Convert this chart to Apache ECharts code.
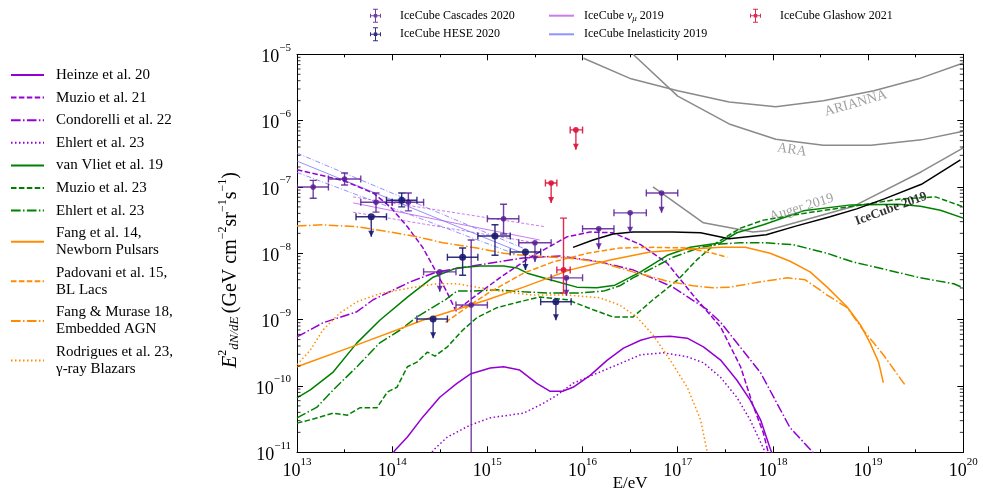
<!DOCTYPE html>
<html>
<head>
<meta charset="utf-8">
<title>Neutrino flux models</title>
<script src="https://cdn.jsdelivr.net/npm/echarts@6.0.0/dist/echarts.min.js"></script>
</head>
<body style="margin:0">
<div id="main" style="width:983px;height:492px;"></div>
<script>
// every value is [log10(E / eV), log10(E^2 dN/dE / GeV cm^-2 sr^-1 s^-1)]
var heinze20 = [[13.99,-11.05],[14.03,-10.97],[14.16,-10.77],[14.32,-10.47],[14.50,-10.17],[14.68,-9.96],[14.82,-9.82],[15.03,-9.73],[15.17,-9.71],[15.34,-9.76],[15.52,-9.96],[15.66,-10.08],[15.79,-10.08],[15.90,-10.02],[16.08,-9.84],[16.26,-9.61],[16.43,-9.43],[16.61,-9.31],[16.74,-9.26],[16.92,-9.25],[17.10,-9.28],[17.27,-9.41],[17.45,-9.61],[17.62,-9.91],[17.76,-10.21],[17.87,-10.51],[17.97,-10.94],[18.00,-11.05]];
var muzio21 = [[13.00,-6.74],[13.48,-6.90],[13.80,-7.09],[13.98,-7.30],[14.16,-7.60],[14.32,-7.91],[14.47,-8.30],[14.58,-8.60],[14.67,-8.87],[14.82,-8.70],[15.13,-8.37],[15.45,-8.06],[15.84,-7.75],[16.08,-7.68],[16.32,-7.69],[16.61,-7.87],[16.89,-8.15],[17.16,-8.63],[17.45,-9.11],[17.66,-9.71],[17.79,-10.29],[17.90,-10.71],[17.95,-11.00],[17.96,-11.05]];
var condorelli22 = [[13.00,-9.26],[13.27,-9.05],[13.63,-8.88],[13.80,-8.70],[14.19,-8.43],[14.47,-8.28],[14.89,-8.18],[15.38,-8.07],[15.76,-8.04],[16.18,-8.13],[16.53,-8.25],[16.95,-8.51],[17.31,-8.85],[17.45,-9.04],[17.87,-9.80],[18.18,-10.63],[18.42,-11.00],[18.45,-11.05]];
var ehlert23p = [[14.40,-11.05],[14.43,-10.97],[14.58,-10.77],[14.82,-10.59],[15.03,-10.48],[15.38,-10.41],[15.59,-10.26],[15.73,-10.14],[15.90,-9.96],[16.15,-9.81],[16.43,-9.64],[16.61,-9.53],[16.85,-9.50],[17.10,-9.56],[17.27,-9.65],[17.45,-9.87],[17.62,-10.17],[17.76,-10.51],[17.90,-10.94],[17.93,-11.05]];
var vanVliet19 = [[13.00,-10.18],[13.14,-10.06],[13.38,-9.79],[13.63,-9.35],[13.87,-9.01],[14.16,-8.66],[14.43,-8.36],[14.68,-8.22],[14.92,-8.19],[15.17,-8.19],[15.31,-8.22],[15.42,-8.30],[15.66,-8.40],[15.94,-8.51],[16.15,-8.52],[16.34,-8.48],[16.61,-8.28],[16.89,-8.03],[17.13,-7.91],[17.45,-7.84],[17.62,-7.69],[17.90,-7.57],[18.32,-7.36],[18.82,-7.27],[19.32,-7.26],[19.55,-7.29],[19.76,-7.35],[20.00,-7.47]];
var muzio23 = [[13.00,-10.56],[13.14,-10.51],[13.38,-10.41],[13.53,-10.44],[13.66,-10.33],[13.84,-10.33],[13.95,-10.09],[14.05,-10.02],[14.16,-9.71],[14.26,-9.64],[14.37,-9.49],[14.45,-9.55],[14.58,-9.41],[14.74,-9.16],[14.89,-8.97],[15.10,-8.82],[15.34,-8.73],[15.55,-8.66],[15.84,-8.70],[16.11,-8.85],[16.32,-8.96],[16.53,-8.96],[16.74,-8.70],[17.00,-8.40],[17.20,-8.10],[17.41,-7.84],[17.66,-7.62],[17.90,-7.50],[18.36,-7.39],[18.84,-7.29],[19.34,-7.18],[19.71,-7.15],[20.00,-7.30]];
var ehlert23g = [[13.00,-10.48],[13.21,-10.32],[13.38,-10.06],[13.63,-9.71],[13.87,-9.35],[14.08,-9.16],[14.26,-8.96],[14.43,-8.81],[14.56,-8.70],[14.68,-8.57],[14.85,-8.57],[15.10,-8.55],[15.38,-8.58],[15.66,-8.60],[15.94,-8.60],[16.22,-8.57],[16.39,-8.49],[16.53,-8.37],[16.74,-8.22],[16.95,-8.06],[17.24,-7.91],[17.45,-7.86],[17.66,-7.84],[17.90,-7.84],[18.21,-7.87],[18.57,-8.00],[18.84,-8.13],[19.20,-8.25],[19.55,-8.37],[19.90,-8.46],[20.00,-8.52]];
var fang14 = [[13.00,-9.71],[13.63,-9.38],[14.32,-9.01],[15.00,-8.70],[15.38,-8.51],[15.87,-8.25],[16.29,-8.10],[16.71,-7.98],[17.10,-7.94],[17.45,-7.91],[17.71,-7.91],[17.97,-8.00],[18.18,-8.12],[18.39,-8.28],[18.57,-8.51],[18.78,-8.81],[18.92,-9.08],[19.02,-9.35],[19.11,-9.64],[19.16,-9.95]];
var padovani15 = [[14.56,-9.04],[14.82,-8.78],[15.03,-8.58],[15.38,-8.30],[15.69,-8.13],[16.05,-8.00],[16.39,-7.92],[16.74,-7.91],[17.10,-7.92],[17.37,-8.00],[17.52,-8.06]];
var fangMurase18 = [[13.00,-7.59],[13.27,-7.57],[13.63,-7.60],[13.98,-7.68],[14.26,-7.75],[14.53,-7.84],[14.89,-7.92],[15.17,-8.00],[15.45,-8.04],[15.84,-8.07],[16.18,-8.13],[16.53,-8.28],[16.89,-8.42],[17.16,-8.49],[17.37,-8.52],[17.55,-8.51],[17.87,-8.43],[18.15,-8.37],[18.34,-8.40],[18.57,-8.63],[18.78,-8.82],[18.95,-9.16],[19.16,-9.53],[19.39,-9.99]];
var rodrigues23 = [[13.00,-9.68],[13.14,-9.46],[13.27,-9.16],[13.45,-8.90],[13.63,-8.73],[13.87,-8.61],[14.08,-8.55],[14.32,-8.49],[14.47,-8.46],[14.68,-8.46],[14.89,-8.51],[15.17,-8.58],[15.48,-8.63],[15.84,-8.63],[16.18,-8.67],[16.39,-8.78],[16.57,-8.96],[16.74,-9.23],[16.92,-9.61],[17.10,-10.02],[17.24,-10.51],[17.31,-11.00],[17.32,-11.05]];
var icecube2019 = [[15.90,-7.91],[16.11,-7.80],[16.32,-7.71],[16.53,-7.68],[16.95,-7.68],[17.24,-7.69],[17.54,-7.78],[17.93,-7.72],[18.24,-7.59],[18.60,-7.45],[18.88,-7.33],[19.17,-7.18],[19.56,-6.96],[19.97,-6.59]];
var auger2019 = [[16.74,-7.00],[17.27,-7.54],[17.79,-7.68],[17.93,-7.66],[18.85,-7.29],[19.56,-6.77],[20.00,-6.41]];
var ara = [[16.53,-5.00],[17.00,-5.63],[17.54,-6.05],[18.03,-6.28],[18.53,-6.37],[19.03,-6.37],[19.56,-6.29],[20.00,-6.16]];
var arianna = [[16.01,-5.06],[16.51,-5.37],[17.00,-5.55],[17.54,-5.72],[18.03,-5.79],[18.53,-5.70],[19.06,-5.55],[19.53,-5.37],[20.00,-5.13]];
var numu2019 = [[13.59,-7.24],[15.55,-7.80]];
var numu2019Hi = [[13.59,-7.15],[15.61,-7.60]];
var numu2019Lo = [[13.59,-7.38],[15.50,-7.84]];
var inel2019 = [[13.00,-6.61],[15.34,-7.98]];
var inel2019Hi = [[13.00,-6.49],[15.42,-7.95]];
var inel2019Lo = [[13.00,-6.78],[15.29,-8.01]];

// [logE, logF, logE low, logE high, logF low, logF high, upper limit]
var cascades2020 = [
  [13.17,-7.00,13.00,13.33,-7.17,-6.90,0],
  [13.50,-6.88,13.33,13.67,-6.97,-6.79,0],
  [13.83,-7.23,13.67,14.00,-7.38,-7.09,0],
  [14.17,-7.23,14.00,14.33,-7.36,-7.09,0],
  [14.50,-8.28,14.33,14.67,-8.58,-8.28,1],
  [14.83,-8.78,14.67,15.00,-11.5,-7.80,0],
  [15.17,-7.48,15.00,15.33,-7.71,-7.26,0],
  [15.50,-7.84,15.33,15.67,-8.13,-7.84,1],
  [15.83,-8.37,15.67,16.00,-8.64,-8.37,1],
  [16.17,-7.63,16.00,16.33,-7.94,-7.63,1],
  [16.50,-7.39,16.33,16.67,-7.69,-7.39,1],
  [16.83,-7.09,16.67,17.00,-7.39,-7.09,1]
];
var hese2020 = [
  [13.78,-7.45,13.62,13.94,-7.75,-7.45,1],
  [14.10,-7.20,13.94,14.26,-7.30,-7.09,0],
  [14.43,-8.99,14.26,14.58,-9.28,-8.99,1],
  [14.74,-8.06,14.58,14.90,-8.33,-7.92,0],
  [15.08,-7.74,14.90,15.24,-8.03,-7.57,0],
  [15.40,-7.98,15.24,15.56,-8.25,-7.98,1],
  [15.72,-8.73,15.56,15.88,-9.01,-8.73,1]
];
var glashow2021 = [
  [15.67,-6.94,15.61,15.73,-7.24,-6.94,1],
  [15.80,-8.25,15.73,15.87,-8.60,-7.47,0],
  [15.93,-6.14,15.87,16.00,-6.44,-6.14,1]
];

// curve labels: text, anchor [logE, logF], rotation
var curveLabels = [
  ['ARIANNA', [18.87, -5.74], 16],
  ['ARA', [18.20, -6.44], -9],
  ['Auger 2019', [18.30, -7.31], 17],
  ['IceCube 2019', [19.24, -7.33], 20]
];

var xTicks = [13, 14, 15, 16, 17, 18, 19, 20];
var yTicks = [-11, -10, -9, -8, -7, -6, -5];

var PURPLE = '#9400d3', GREEN = '#008000', ORANGE = '#ff8c00', GRAY = '#8a8a8a';
var SERIF = '"Liberation Serif", "DejaVu Serif", serif';
var SOLID = 'solid', DASHED = [5.5, 2.4], DASHDOT = [9.6, 2.4, 1.5, 2.4], DOTTED = [1.5, 2.5];

var models = [
  ['Heinze et al. 20', heinze20, PURPLE, SOLID],
  ['Muzio et al. 21', muzio21, PURPLE, DASHED],
  ['Condorelli et al. 22', condorelli22, PURPLE, DASHDOT],
  ['Ehlert et al. 23', ehlert23p, PURPLE, DOTTED],
  ['van Vliet et al. 19', vanVliet19, GREEN, SOLID],
  ['Muzio et al. 23', muzio23, GREEN, DASHED],
  ['Ehlert et al. 23 ', ehlert23g, GREEN, DASHDOT],
  ['Fang et al. 14,\nNewborn Pulsars', fang14, ORANGE, SOLID],
  ['Padovani et al. 15,\nBL Lacs', padovani15, ORANGE, DASHED],
  ['Fang & Murase 18,\nEmbedded AGN', fangMurase18, ORANGE, DASHDOT],
  ['Rodrigues et al. 23,\n\u03b3-ray Blazars', rodrigues23, ORANGE, DOTTED]
];

var series = [];
models.forEach(function (m) {
  series.push({
    name: m[0], type: 'line', data: m[1], symbol: 'none', symbolSize: 0, silent: true, z: 3,
    lineStyle: { color: m[2], width: 1.5, type: m[3] }, itemStyle: { color: m[2] }
  });
});

function plainLine(name, data, color, width, type, z) {
  series.push({
    name: name, type: 'line', data: data, symbol: 'none', symbolSize: 0, silent: true, z: z || 2,
    lineStyle: { color: color, width: width, type: type }, itemStyle: { color: color }
  });
}
plainLine('IceCube 2019', icecube2019, '#000', 1.5, SOLID, 4);
plainLine('Auger 2019', auger2019, GRAY, 1.5, SOLID);
plainLine('ARA', ara, GRAY, 1.5, SOLID);
plainLine('ARIANNA', arianna, GRAY, 1.5, SOLID);
var NUMU = 'rgba(190,90,235,0.8)', INEL = 'rgba(110,110,255,0.75)';
plainLine('IceCube \u03bd\u03bc 2019', numu2019, NUMU, 1, SOLID);
plainLine('numu hi', numu2019Hi, NUMU, 1, [3, 2]);
plainLine('numu lo', numu2019Lo, NUMU, 1, [3, 2]);
plainLine('IceCube Inelasticity 2019', inel2019, INEL, 1, SOLID);
plainLine('inel hi', inel2019Hi, INEL, 1, [5, 2, 1, 2]);
plainLine('inel lo', inel2019Lo, INEL, 1, [5, 2, 1, 2]);

function errorBarItem(params, api) {
  var x = api.value(0), y = api.value(1);
  var c = api.coord([x, y]);
  var l = api.coord([api.value(2), y]);
  var r = api.coord([api.value(3), y]);
  var lo = api.coord([x, api.value(4)]);
  var hi = api.coord([x, api.value(5)]);
  var ul = api.value(6) === 1;
  var color = api.visual('color');
  var st = { stroke: color, lineWidth: 1.4 };
  var cap = 3.5;
  var kids = [
    { type: 'line', shape: { x1: l[0], y1: c[1], x2: r[0], y2: c[1] }, style: st },
    { type: 'line', shape: { x1: l[0], y1: c[1] - cap, x2: l[0], y2: c[1] + cap }, style: st },
    { type: 'line', shape: { x1: r[0], y1: c[1] - cap, x2: r[0], y2: c[1] + cap }, style: st },
    { type: 'line', shape: { x1: c[0], y1: hi[1], x2: c[0], y2: lo[1] }, style: st }
  ];
  if (ul) {
    kids.push({ type: 'polygon', shape: { points: [[c[0] - 3, lo[1] - 6], [c[0] + 3, lo[1] - 6], [c[0], lo[1]]] }, style: { fill: color } });
  } else {
    kids.push({ type: 'line', shape: { x1: c[0] - cap, y1: hi[1], x2: c[0] + cap, y2: hi[1] }, style: st });
    kids.push({ type: 'line', shape: { x1: c[0] - cap, y1: lo[1], x2: c[0] + cap, y2: lo[1] }, style: st });
  }
  kids.push({ type: 'circle', shape: { cx: c[0], cy: c[1], r: params.seriesName.indexOf('HESE') >= 0 ? 3.5 : 2.8 }, style: { fill: color } });
  return { type: 'group', children: kids };
}
function errorSeries(name, data, color) {
  series.push({
    name: name, type: 'custom', data: data, renderItem: errorBarItem, clip: true, silent: true, z: 6,
    encode: { x: 0, y: 1 }, itemStyle: { color: color }
  });
}
errorSeries('IceCube Cascades 2020', cascades2020, 'rgba(88,28,150,0.85)');
errorSeries('IceCube HESE 2020', hese2020, 'rgba(25,25,112,0.9)');
errorSeries('IceCube Glashow 2021', glashow2021, 'rgba(220,20,60,0.9)');

// log minor ticks on the flux axis
var yMinor = [];
yTicks.slice(0, -1).forEach(function (n) {
  for (var k = 2; k <= 9; k++) yMinor.push([n + Math.log10(k)]);
});
series.push({
  type: 'custom', data: yMinor, silent: true, z: 7, encode: { y: 0 },
  renderItem: function (params, api) {
    var p = api.coord([13, api.value(0)]);
    var cs = params.coordSys;
    var st = { stroke: '#000', lineWidth: 0.8 };
    return { type: 'group', children: [
      { type: 'line', shape: { x1: cs.x, y1: p[1], x2: cs.x + 3.5, y2: p[1] }, style: st },
      { type: 'line', shape: { x1: cs.x + cs.width - 3.5, y1: p[1], x2: cs.x + cs.width, y2: p[1] }, style: st }
    ] };
  }
});

series.push({
  type: 'scatter', symbolSize: 0, silent: true, z: 8,
  data: curveLabels.map(function (c) {
    var ice = c[0] === 'IceCube 2019';
    return {
      value: c[1],
      label: {
        show: true, position: 'inside', rotate: c[2], formatter: c[0],
        fontFamily: SERIF, fontSize: ice ? 13 : 14, fontWeight: ice ? 'bold' : 'normal',
        color: ice ? '#000' : GRAY
      }
    };
  })
});

var EB_ICON = 'path://M0,6.5h11v1h-11z M5,0h1v14h-1z M3,0h5v1h-5z M3,13h5v1h-5z M0,5h1v4h-1z M10,5h1v4h-1z M3.8,5.3h3.4v3.4h-3.4z';
var topText = { fontFamily: SERIF, fontSize: 12, lineHeight: 14, color: '#000' };

function pow10Label(v) {
  var e = v < 0 ? '\u2212' + Math.abs(v) : String(v);
  return '{b|10}{e|' + e + '}';
}
var tickRich = {
  b: { fontFamily: SERIF, fontSize: 18, lineHeight: 24, verticalAlign: 'bottom', color: '#000' },
  e: { fontFamily: SERIF, fontSize: 11, lineHeight: 12, verticalAlign: 'top', color: '#000' }
};

var chart = echarts.init(document.getElementById('main'));
chart.setOption({
  animation: false,
  backgroundColor: '#fff',
  grid: { left: 297, top: 54.3, right: 19.7, bottom: 39.7, outerBoundsMode: 'none' },
  xAxis: [{
    type: 'value', min: xTicks[0], max: xTicks[xTicks.length - 1], interval: 1,
    axisLine: { lineStyle: { color: '#000', width: 1 } },
    axisTick: { inside: true, length: 6, lineStyle: { color: '#000' } },
    minorTick: { show: true, splitNumber: 2, length: 3, lineStyle: { color: '#000' } },
    splitLine: { show: false },
    axisLabel: { formatter: pow10Label, rich: tickRich, margin: 4, showMaxLabel: true, showMinLabel: true },
    name: 'E/eV', nameLocation: 'middle', nameGap: 23, nameMoveOverlap: false,
    nameTextStyle: { fontFamily: SERIF, fontSize: 17, color: '#000' }
  }, {
    type: 'value', position: 'top', min: xTicks[0], max: xTicks[xTicks.length - 1], interval: 1,
    axisLine: { lineStyle: { color: '#000', width: 1 } },
    axisTick: { inside: true, length: 6, lineStyle: { color: '#000' } },
    minorTick: { show: true, splitNumber: 2, length: 3, lineStyle: { color: '#000' } },
    splitLine: { show: false }, axisLabel: { show: false }
  }],
  yAxis: [{
    type: 'value', min: yTicks[0], max: yTicks[yTicks.length - 1], interval: 1,
    axisLine: { show: true, lineStyle: { color: '#000', width: 1 } },
    axisTick: { show: true, inside: true, length: 6, lineStyle: { color: '#000' } },
    splitLine: { show: false },
    axisLabel: { formatter: pow10Label, rich: tickRich, margin: 6, showMaxLabel: true, showMinLabel: true }
  }, {
    type: 'value', position: 'right', min: yTicks[0], max: yTicks[yTicks.length - 1], interval: 1,
    axisLine: { show: true, lineStyle: { color: '#000', width: 1 } },
    axisTick: { show: true, inside: true, length: 6, lineStyle: { color: '#000' } },
    splitLine: { show: false }, axisLabel: { show: false }
  }],
  legend: [{
    orient: 'vertical', left: 10, top: 66.5, padding: 0, itemGap: 5.6,
    itemWidth: 33, itemHeight: 17, selectedMode: false,
    itemStyle: { opacity: 0 },
    data: models.map(function (m) { return m[0]; }),
    textStyle: { fontFamily: SERIF, fontSize: 15, lineHeight: 17, color: '#000', padding: [0, 0, 0, 7] }
  }, {
    orient: 'vertical', left: 370, top: 8.7, padding: 0, itemGap: 4.6,
    itemWidth: 11, itemHeight: 14, selectedMode: false,
    data: [{ name: 'IceCube Cascades 2020', icon: EB_ICON }, { name: 'IceCube HESE 2020', icon: EB_ICON }],
    textStyle: Object.assign({ padding: [0, 0, 0, 14] }, topText)
  }, {
    orient: 'vertical', left: 548, top: 8.7, padding: 0, itemGap: 4.6,
    itemWidth: 25, itemHeight: 14, selectedMode: false,
    itemStyle: { opacity: 0 },
    data: ['IceCube \u03bd\u03bc 2019', 'IceCube Inelasticity 2019'],
    formatter: function (n) { return n.indexOf('\u03bd') >= 0 ? 'IceCube {i|\u03bd}{s|\u03bc} 2019' : n; },
    textStyle: Object.assign({
      padding: [0, 0, 0, 5],
      rich: {
        i: { fontFamily: SERIF, fontSize: 12, fontStyle: 'italic', color: '#000', lineHeight: 14 },
        s: { fontFamily: SERIF, fontSize: 9, fontStyle: 'italic', color: '#000', lineHeight: 10, verticalAlign: 'bottom' }
      }
    }, topText)
  }, {
    orient: 'vertical', left: 750, top: 8.7, padding: 0,
    itemWidth: 11, itemHeight: 14, selectedMode: false,
    data: [{ name: 'IceCube Glashow 2021', icon: EB_ICON }],
    textStyle: Object.assign({ padding: [0, 0, 0, 14] }, topText)
  }],
  graphic: [{
    type: 'text', x: 229, y: 270, rotation: Math.PI / 2, silent: true,
    style: {
      text: '{it|E}{s|2}{f|dN/dE} {n|(GeV cm}{s|\u22122}{n|sr}{s|\u22121}{n|s}{s|\u22121}{n|)}',
      align: 'center', verticalAlign: 'middle',
      rich: {
        it: { fontFamily: SERIF, fontSize: 20, fontStyle: 'italic', lineHeight: 24, verticalAlign: 'bottom', fill: '#000' },
        n: { fontFamily: SERIF, fontSize: 20, lineHeight: 24, verticalAlign: 'bottom', fill: '#000' },
        f: { fontFamily: SERIF, fontSize: 13, fontStyle: 'italic', lineHeight: 24, verticalAlign: 'bottom', fill: '#000' },
        s: { fontFamily: SERIF, fontSize: 12, lineHeight: 17, verticalAlign: 'top', fill: '#000' }
      }
    }
  }],
  series: series
});
</script>
</body>
</html>
